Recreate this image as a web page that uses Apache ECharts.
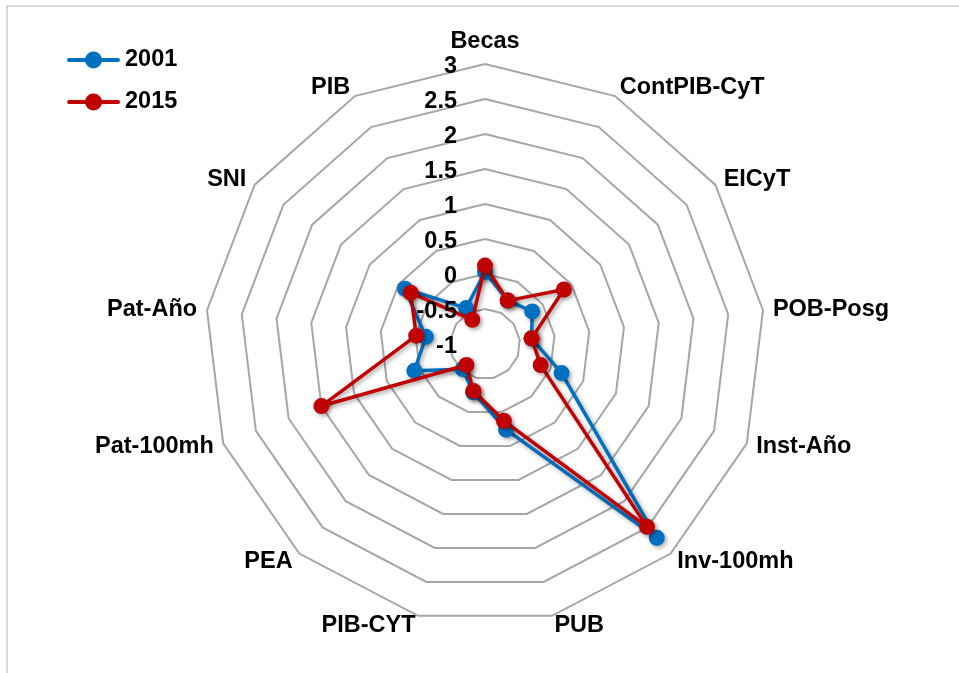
<!DOCTYPE html>
<html>
<head>
<meta charset="utf-8">
<title>Indicadores CyT 2001 vs 2015</title>
<script src="https://cdn.jsdelivr.net/npm/echarts@6/dist/echarts.min.js"></script>
<style>
  html, body { margin: 0; padding: 0; background: #ffffff; }
  #chart { width: 959px; height: 673px; }
</style>
</head>
<body>
<div id="chart"></div>
<script>
// Indicator names, listed clockwise starting at the top
const indicatorNames = ['Becas', 'ContPIB-CyT', 'EICyT', 'POB-Posg', 'Inst-Año', 'Inv-100mh',
  'PUB', 'PIB-CYT', 'PEA', 'Pat-100mh', 'Pat-Año', 'SNI', 'PIB'];

// Standardised values per indicator
const values2001 = [0.03, -0.30, -0.18, -0.33, 0.17, 2.70, 0.26, -0.29, -0.52, 0.08, -0.15, 0.39, -0.42];
const values2015 = [0.12, -0.30, 0.37, -0.33, -0.15, 2.49, 0.13, -0.31, -0.60, 1.50, -0.01, 0.29, -0.61];

const seriesNames = ['2001', '2015'];
const seriesColors = ['#0070C0', '#C00000'];

// Radial scale
const scaleMin = -1;
const scaleMax = 3;
const scaleStep = 0.5;

// ECharts lays radar indicators out counter-clockwise, so keep the first
// one at the top and reverse the rest to run clockwise.
const order = [0].concat(indicatorNames.map((_, i) => i).slice(1).reverse());
const pick = arr => order.map(i => arr[i]);

const cx = 485, cy = 344, radius = 280;
const labelFont = { color: '#000000', fontWeight: 'bold', fontSize: 23.5, fontFamily: 'Liberation Sans, Arial, sans-serif' };

// Legend icon: a thick line with a round marker in the middle
const legendIcon = 'path://M2,6.5 L51,6.5 A2,2 0 0,1 51,10.5 L2,10.5 A2,2 0 0,1 2,6.5 Z M18,8.5 A8.5,8.5 0 1,1 35,8.5 A8.5,8.5 0 1,1 18,8.5 Z';

const shadow = { shadowBlur: 4, shadowOffsetX: 2, shadowOffsetY: 2, shadowColor: 'rgba(0,0,0,0.35)' };

const chart = echarts.init(document.getElementById('chart'), null, { renderer: 'canvas' });

chart.setOption({
  animation: false,
  backgroundColor: '#ffffff',
  graphic: [{
    type: 'rect',
    shape: { x: 7, y: 6, width: 1000, height: 1000 },
    style: { fill: 'none', stroke: '#D9D9D9', lineWidth: 2 },
    silent: true,
    z: -10
  }],
  legend: {
    data: seriesNames,
    orient: 'vertical',
    left: 67,
    top: 48,
    padding: 0,
    itemWidth: 53,
    itemHeight: 17,
    itemGap: 18,
    icon: legendIcon,
    textStyle: labelFont,
    selectedMode: false
  },
  radar: {
    center: [cx, cy],
    radius: radius,
    startAngle: 90,
    splitNumber: (scaleMax - scaleMin) / scaleStep,
    shape: 'polygon',
    nameGap: 10,
    axisName: labelFont,
    indicator: pick(indicatorNames).map(name => ({ name: name, min: scaleMin, max: scaleMax })),
    axisLine: { show: false },
    axisTick: { show: false },
    axisLabel: { show: false },
    splitArea: { show: false },
    splitLine: { lineStyle: { color: '#A6A6A6', width: 2 } }
  },
  // Value axis used only to print the radial tick labels along the top spoke,
  // set a few pixels low so the digits sit just under each ring
  grid: { left: cx, top: cy - radius + 3, width: 10, height: radius },
  xAxis: { type: 'value', show: false },
  yAxis: {
    type: 'value',
    min: scaleMin,
    max: scaleMax,
    interval: scaleStep,
    z: 10,
    axisLine: { show: false },
    axisTick: { show: false },
    splitLine: { show: false },
    axisLabel: Object.assign({ margin: 28 }, labelFont)
  },
  series: [values2001, values2015].map((vals, k) => ({
    type: 'radar',
    name: seriesNames[k],
    z: 2 + k,
    symbol: 'circle',
    symbolSize: 16,
    lineStyle: Object.assign({ color: seriesColors[k], width: 3.5 }, shadow),
    itemStyle: Object.assign({ color: seriesColors[k] }, shadow),
    data: [{ name: seriesNames[k], value: pick(vals) }]
  }))
});
</script>
</body>
</html>
